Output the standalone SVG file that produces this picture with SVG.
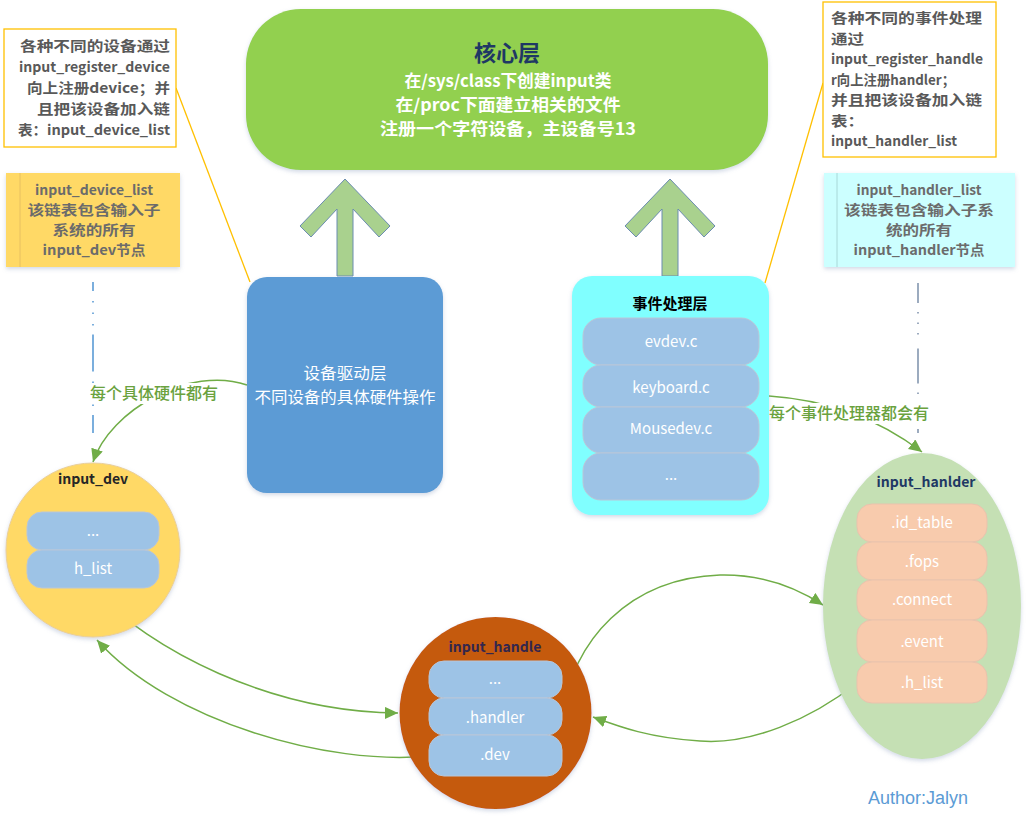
<svg xmlns="http://www.w3.org/2000/svg" width="1028" height="820" viewBox="0 0 1028 820">
<defs>
<style>
text{font-family:"Noto Sans CJK SC","Noto Sans",sans-serif;}
.note{fill:#595959;font-weight:bold;font-size:14px;}
.list{fill:#6b6b6b;font-weight:bold;font-size:13.5px;text-anchor:middle;}
.core{fill:#ffffff;font-weight:bold;font-size:16.5px;text-anchor:middle;}
.item{fill:#ffffff;font-size:15px;text-anchor:middle;}
.ttl{font-weight:bold;font-size:14px;text-anchor:middle;}
.lbl{fill:#6aa23e;font-size:16px;font-weight:500;text-anchor:middle;}
.conn{fill:none;stroke:#70AD47;stroke-width:1.5;}
.blue{fill:#9DC3E6;stroke:#b9c6d8;stroke-width:1;}
.peach{fill:#F8CBAD;stroke:#e9c3ad;stroke-width:1;}
.up{fill:#A9D18E;stroke:#6b8cb0;stroke-width:1;}
</style>
<marker id="arr" markerUnits="userSpaceOnUse" markerWidth="15" markerHeight="13" refX="13" refY="6" orient="auto">
<path d="M0,0 L13,6 L0,12 z" fill="#70AD47"/>
</marker>
<filter id="sh" x="-10%" y="-10%" width="120%" height="125%">
<feDropShadow dx="0" dy="2" stdDeviation="2" flood-color="#7f93b8" flood-opacity="0.35"/>
</filter>
</defs>
<rect width="1028" height="820" fill="#ffffff"/>

<g id="connectors">
<line x1="176" y1="88" x2="250" y2="282" stroke="#FFC000" stroke-width="1.3"/>
<line x1="823" y1="83" x2="765" y2="283" stroke="#FFC000" stroke-width="1.3"/>
<line x1="93" y1="282" x2="93" y2="433" stroke="#5B9BD5" stroke-width="1.6" stroke-dasharray="37 10 1.5 10 1.5 10 1.5 9" stroke-dashoffset="28"/>
<line x1="918" y1="283" x2="918" y2="433" stroke="#8497B0" stroke-width="1.6" stroke-dasharray="35 9 1.5 9 1.5 9 1.5 14" stroke-dashoffset="15"/>
<path class="conn" d="M247,385 C190,365 110,410 93,462" marker-end="url(#arr)"/>
<path class="conn" d="M769,396 C830,400 880,420 922,452" marker-end="url(#arr)"/>
<path class="conn" d="M93,589 C150,650 270,712 398,713" marker-end="url(#arr)"/>
<path class="conn" d="M429,756 C330,766 170,722 97,640" marker-end="url(#arr)"/>
<path class="conn" d="M562,717 C572,640 630,578 720,575 C765,574 800,590 823,605" marker-end="url(#arr)"/>
<path class="conn" d="M857,683 C810,720 750,745 700,741 C650,738 620,727 593,717" marker-end="url(#arr)"/>
<rect x="86" y="383" width="136" height="21" fill="#ffffff"/>
<text class="lbl" x="154" y="399">每个具体硬件都有</text>
<rect x="765" y="403" width="169" height="21" fill="#ffffff"/>
<text class="lbl" x="849" y="419">每个事件处理器都会有</text>
</g>

<g id="note-device">
<rect x="4" y="29" width="172" height="118" fill="#ffffff" stroke="#FFC000" stroke-width="1.3"/>
<text class="note" text-anchor="end" x="170" y="51" textLength="150" lengthAdjust="spacingAndGlyphs">各种不同的设备通过</text>
<text class="note" text-anchor="end" x="170" y="72" textLength="151" lengthAdjust="spacingAndGlyphs">input_register_device</text>
<text class="note" text-anchor="end" x="170" y="93" textLength="143" lengthAdjust="spacingAndGlyphs">向上注册device；并</text>
<text class="note" text-anchor="end" x="170" y="114" textLength="133" lengthAdjust="spacingAndGlyphs">且把该设备加入链</text>
<text class="note" text-anchor="end" x="170" y="135" textLength="152" lengthAdjust="spacingAndGlyphs">表：input_device_list</text>
</g>

<g id="input-device-list">
<rect x="6" y="173" width="174" height="94" fill="#FFD966" filter="url(#sh)"/>
<line x1="20" y1="173" x2="20" y2="267" stroke="#e8c060" stroke-width="1"/>
<text class="list" x="94" y="195" textLength="118" lengthAdjust="spacingAndGlyphs">input_device_list</text>
<text class="list" x="94" y="215" textLength="133" lengthAdjust="spacingAndGlyphs">该链表包含输入子</text>
<text class="list" x="94" y="235" textLength="83" lengthAdjust="spacingAndGlyphs">系统的所有</text>
<text class="list" x="94" y="255" textLength="103" lengthAdjust="spacingAndGlyphs">input_dev节点</text>
</g>

<g id="core-layer">
<rect x="246" y="9" width="522" height="161" rx="55" ry="55" fill="#92D050" filter="url(#sh)"/>
<text x="507" y="61" text-anchor="middle" font-size="22" font-weight="bold" fill="#1F3864">核心层</text>
<text class="core" x="508" y="87" textLength="207" lengthAdjust="spacingAndGlyphs">在/sys/class下创建input类</text>
<text class="core" x="508" y="111" textLength="225" lengthAdjust="spacingAndGlyphs">在/proc下面建立相关的文件</text>
<text class="core" x="508" y="135" textLength="256" lengthAdjust="spacingAndGlyphs">注册一个字符设备，主设备号13</text>
</g>

<g id="arrow-up-left">
<polygon class="up" points="345,179 390,226 379,237 353,209 353,276 337,276 337,209 311,237 300,226"/>
</g>
<g id="arrow-up-right">
<polygon class="up" points="670,179 715,226 704,237 678,209 678,276 662,276 662,209 636,237 625,226"/>
</g>

<g id="note-handler">
<rect x="823" y="2" width="173" height="155" fill="#ffffff" stroke="#FFC000" stroke-width="1.3"/>
<text class="note" x="831" y="23" textLength="151" lengthAdjust="spacingAndGlyphs">各种不同的事件处理</text>
<text class="note" x="831" y="43.5" textLength="33" lengthAdjust="spacingAndGlyphs">通过</text>
<text class="note" x="831" y="64" textLength="152" lengthAdjust="spacingAndGlyphs">input_register_handle</text>
<text class="note" x="831" y="84.5" textLength="124" lengthAdjust="spacingAndGlyphs">r向上注册handler；</text>
<text class="note" x="831" y="105" textLength="151" lengthAdjust="spacingAndGlyphs">并且把该设备加入链</text>
<text class="note" x="831" y="125.5" textLength="33" lengthAdjust="spacingAndGlyphs">表：</text>
<text class="note" x="831" y="146" textLength="126" lengthAdjust="spacingAndGlyphs">input_handler_list</text>
</g>

<g id="input-handler-list">
<rect x="824" y="173" width="191" height="94" fill="#CCFFFF" filter="url(#sh)"/>
<line x1="837" y1="173" x2="837" y2="267" stroke="#a8d8d8" stroke-width="1"/>
<text class="list" x="919" y="195" textLength="125" lengthAdjust="spacingAndGlyphs">input_handler_list</text>
<text class="list" x="919" y="215" textLength="150" lengthAdjust="spacingAndGlyphs">该链表包含输入子系</text>
<text class="list" x="919" y="235" textLength="66" lengthAdjust="spacingAndGlyphs">统的所有</text>
<text class="list" x="919" y="255" textLength="131" lengthAdjust="spacingAndGlyphs">input_handler节点</text>
</g>

<g id="device-driver-layer">
<rect x="247" y="277" width="196" height="216" rx="20" ry="20" fill="#5B9BD5" filter="url(#sh)"/>
<text x="345" y="379" text-anchor="middle" font-size="16" fill="#ffffff" textLength="83" lengthAdjust="spacingAndGlyphs">设备驱动层</text>
<text x="345" y="403" text-anchor="middle" font-size="16" fill="#ffffff" textLength="181" lengthAdjust="spacingAndGlyphs">不同设备的具体硬件操作</text>
</g>

<g id="event-handler-layer">
<rect x="572" y="276" width="197" height="239" rx="20" ry="20" fill="#80FFFF" filter="url(#sh)"/>
<text x="670" y="309" text-anchor="middle" font-size="15" font-weight="bold" fill="#000000">事件处理层</text>
<rect class="blue" x="583" y="318" width="176" height="47" rx="18"/>
<rect class="blue" x="583" y="365" width="176" height="42" rx="18"/>
<rect class="blue" x="583" y="407" width="176" height="46" rx="18"/>
<rect class="blue" x="583" y="453" width="176" height="47" rx="18"/>
<text class="item" x="671" y="347">evdev.c</text>
<text class="item" x="671" y="393">keyboard.c</text>
<text class="item" x="671" y="434">Mousedev.c</text>
<text class="item" x="671" y="480">...</text>
</g>

<g id="input-dev">
<circle cx="93" cy="550" r="87" fill="#FFD966" stroke="#e9cf9a" stroke-width="1" filter="url(#sh)"/>
<text class="ttl" x="93" y="484" fill="#262626">input_dev</text>
<rect class="blue" x="27" y="512" width="132" height="38" rx="15"/>
<rect class="blue" x="27" y="550" width="132" height="38" rx="15"/>
<text class="item" x="93" y="536">...</text>
<text class="item" x="93" y="574">h_list</text>
</g>

<g id="input-handle">
<circle cx="495.5" cy="713" r="96" fill="#C55A11" filter="url(#sh)"/>
<text class="ttl" x="495" y="652" fill="#33264d">input_handle</text>
<rect class="blue" x="429" y="661" width="133" height="37" rx="15"/>
<rect class="blue" x="429" y="698" width="133" height="37" rx="15"/>
<rect class="blue" x="429" y="735" width="133" height="41" rx="15"/>
<text class="item" x="495" y="684">...</text>
<text class="item" x="495" y="723">.handler</text>
<text class="item" x="495" y="760">.dev</text>
</g>

<g id="input-hanlder">
<ellipse cx="922" cy="606" rx="99" ry="153" fill="#C5E0B4" filter="url(#sh)"/>
<text class="ttl" x="926" y="487" fill="#1F3864">input_hanlder</text>
<rect class="peach" x="857" y="504" width="130" height="38" rx="15"/>
<rect class="peach" x="857" y="542" width="130" height="38" rx="15"/>
<rect class="peach" x="857" y="580" width="130" height="40" rx="15"/>
<rect class="peach" x="857" y="620" width="130" height="42" rx="15"/>
<rect class="peach" x="857" y="662" width="130" height="41" rx="15"/>
<text class="item" x="922" y="528">.id_table</text>
<text class="item" x="922" y="567">.fops</text>
<text class="item" x="922" y="605">.connect</text>
<text class="item" x="922" y="647">.event</text>
<text class="item" x="922" y="688">.h_list</text>
</g>

<g id="author">
<text x="918" y="804" text-anchor="middle" font-size="18" fill="#5B9BD5" style="font-family:'Liberation Sans Narrow','Liberation Sans',sans-serif">Author:Jalyn</text>
</g>
</svg>
